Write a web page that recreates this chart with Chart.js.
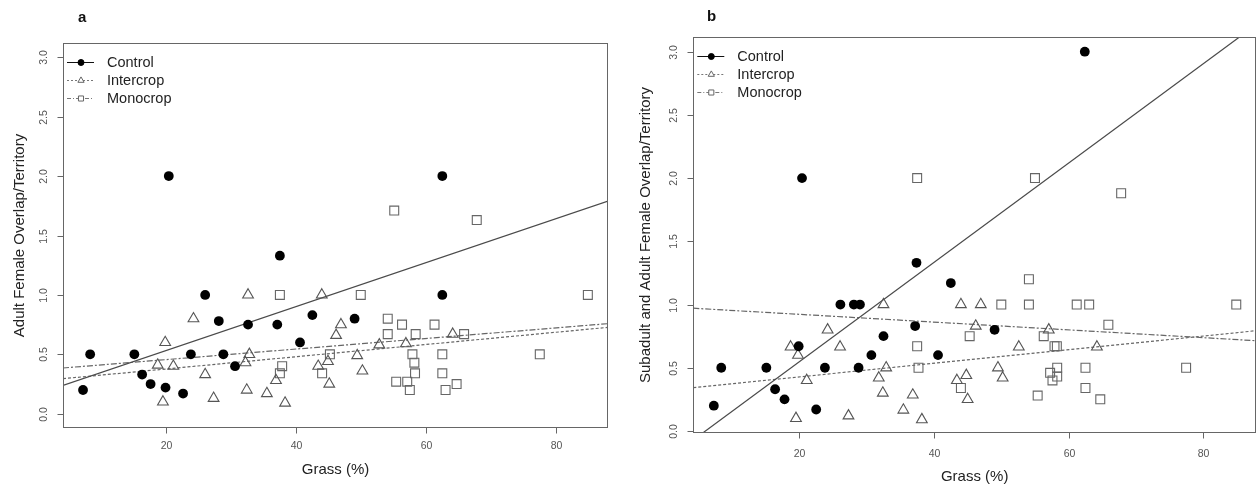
<!DOCTYPE html>
<html><head><meta charset="utf-8">
<script src="https://cdn.jsdelivr.net/npm/chart.js@4/dist/chart.umd.min.js"></script>
<style>
html,body{margin:0;padding:0;background:#fff;}
#wrap{position:relative;width:1257px;height:488px;overflow:hidden;background:#fff;}
canvas{position:absolute;top:0;}
#ca{left:0;}
#cb{left:630px;}
</style></head><body>
<div id="wrap"><canvas id="ca" width="630" height="488"></canvas><canvas id="cb" width="627" height="488"></canvas></div>
<script>
// ---- tick labels & names ----
const xTicks = [20, 40, 60, 80];
const xTickLabels = ['20', '40', '60', '80'];
const yTicks = [0, 0.5, 1, 1.5, 2, 2.5, 3];
const yTickLabels = ['0.0', '0.5', '1.0', '1.5', '2.0', '2.5', '3.0'];
const seriesNames = ['Control', 'Intercrop', 'Monocrop'];
const xTitle = 'Grass (%)';
const yTitleA = 'Adult Female Overlap/Territory';
const yTitleB = 'Subadult and Adult Female Overlap/Territory';

// ---- panel a data ----
const controlA_x = [7.2, 8.3, 15.1, 16.3, 17.6, 19.9, 20.4, 22.6, 23.8, 26.0, 28.1, 28.8, 30.6, 32.6, 37.1, 37.5, 40.6, 42.5, 49.0, 62.5, 62.5];
const controlA_y = [0.20, 0.50, 0.50, 0.33, 0.25, 0.22, 2.00, 0.17, 0.50, 1.00, 0.78, 0.50, 0.40, 0.75, 0.75, 1.33, 0.60, 0.83, 0.80, 1.00, 2.00];
const intercropA_x = [18.7, 19.5, 19.85, 21.1, 24.2, 26.0, 27.3, 32.2, 32.4, 32.6, 32.8, 35.5, 36.9, 38.3, 43.4, 43.95, 44.9, 45.1, 46.15, 46.9, 49.4, 50.2, 52.8, 56.9, 64.1];
const intercropA_y = [0.41, 0.10, 0.60, 0.40, 0.80, 0.33, 0.13, 0.43, 0.20, 1.00, 0.50, 0.17, 0.28, 0.09, 0.40, 1.00, 0.44, 0.25, 0.66, 0.75, 0.49, 0.36, 0.58, 0.59, 0.67];
const monocropA_x = [37.5, 37.5, 37.85, 44.0, 45.2, 49.95, 54.1, 54.1, 55.1, 55.4, 56.3, 57.1, 57.5, 57.9, 58.2, 58.3, 58.4, 61.3, 62.5, 62.5, 63.0, 64.7, 65.85, 67.8, 77.5, 84.9];
const monocropA_y = [1.00, 0.34, 0.40, 0.34, 0.50, 1.00, 0.80, 0.67, 1.71, 0.27, 0.75, 0.27, 0.20, 0.50, 0.43, 0.34, 0.67, 0.75, 0.50, 0.34, 0.20, 0.25, 0.67, 1.63, 0.50, 1.00];
// fitted lines (end points)
const fitA_x = [4.12, 88.0];
const controlFitA_y = [0.238, 1.79];
const intercropFitA_y = [0.295, 0.727];
const monocropFitA_y = [0.385, 0.758];

// ---- panel b data ----
const controlB_x = [7.3, 8.4, 15.1, 16.4, 17.8, 19.9, 20.4, 22.5, 23.8, 26.1, 28.1, 28.8, 29.0, 30.7, 32.5, 37.2, 37.4, 40.6, 42.5, 49.0, 62.4];
const controlB_y = [0.20, 0.50, 0.50, 0.33, 0.25, 0.67, 2.00, 0.17, 0.50, 1.00, 1.00, 0.50, 1.00, 0.60, 0.75, 0.83, 1.33, 0.60, 1.17, 0.80, 3.00];
const intercropB_x = [18.7, 19.5, 19.8, 21.1, 24.2, 26.05, 27.3, 31.8, 32.4, 32.5, 32.9, 35.45, 36.85, 38.2, 43.4, 44.0, 44.8, 45.0, 46.2, 46.95, 49.5, 50.2, 52.6, 57.05, 64.2];
const intercropB_y = [0.665, 0.10, 0.60, 0.40, 0.80, 0.665, 0.12, 0.42, 0.30, 1.00, 0.50, 0.166, 0.285, 0.09, 0.40, 1.00, 0.44, 0.25, 0.83, 1.00, 0.50, 0.42, 0.665, 0.80, 0.665];
const monocropB_x = [37.5, 37.5, 37.7, 44.0, 45.3, 50.0, 54.1, 54.1, 55.0, 55.4, 56.3, 57.25, 57.6, 57.9, 58.25, 58.3, 58.3, 61.2, 62.5, 62.5, 63.05, 64.7, 65.9, 67.8, 77.45, 84.9];
const monocropB_y = [2.00, 0.67, 0.50, 0.34, 0.75, 1.00, 1.20, 1.00, 2.00, 0.28, 0.75, 0.46, 0.40, 0.67, 0.67, 0.43, 0.50, 1.00, 0.50, 0.34, 1.00, 0.25, 0.84, 1.88, 0.50, 1.00];
const controlFitB_x = [5.65, 85.38];
const controlFitB_y = [-0.016, 3.116];
const cropFitB_x = [4.25, 87.83];
const intercropFitB_y = [0.343, 0.793];
const monocropFitB_y = [0.971, 0.714];

// ---- styling ----
const FONT = '"Liberation Sans", Arial, Helvetica, sans-serif';
const styles = {
  Control:   {pointStyle: 'circle',   radius: 4.9, fill: '#000', stroke: '#000', line: '#4a4a4a', dash: [],            lr: 3},
  Intercrop: {pointStyle: 'triangle', radius: 6.2, fill: 'rgba(0,0,0,0)', stroke: '#555', line: '#666', dash: [3, 2],        lr: 3.6},
  Monocrop:  {pointStyle: 'rect',     radius: 6.3, fill: 'rgba(0,0,0,0)', stroke: '#666', line: '#666', dash: [6, 2, 2, 2], lr: 3.6}
};

function pts(xs, ys) { return xs.map((x, i) => ({x: x, y: ys[i]})); }

function scatterSet(name, xs, ys) {
  const s = styles[name];
  return {label: name, data: pts(xs, ys), showLine: false, pointStyle: s.pointStyle,
    pointRadius: s.radius, pointBackgroundColor: s.fill, pointBorderColor: s.stroke,
    pointBorderWidth: name === 'Control' ? 0 : 1.1, order: 1};
}
function lineSet(name, xs, ys) {
  const s = styles[name];
  return {label: name + ' fit', data: pts(xs, ys), showLine: true, pointRadius: 0,
    borderColor: s.line, borderWidth: 1.2, borderDash: s.dash, fill: false, order: 2};
}

function framePlugin(p) {
  return {
    id: 'frame' + p.letter,
    afterDraw(chart) {
      const ctx = chart.ctx, a = chart.chartArea, xs = chart.scales.x, ys = chart.scales.y;
      ctx.save();
      ctx.setLineDash([]);
      ctx.strokeStyle = '#666';
      ctx.lineWidth = 1;
      const L = Math.round(a.left) + 0.5, T = Math.round(a.top) + 0.5;
      const R = Math.round(a.right) - 0.5, B = Math.round(a.bottom) - 0.5;
      ctx.strokeRect(L, T, R - L, B - T);
      // ticks
      ctx.font = p.tickFont + ' ' + FONT;
      ctx.fillStyle = '#555';
      ctx.textAlign = 'center';
      ctx.textBaseline = 'middle';
      xTicks.forEach((v, i) => {
        const px = Math.round(xs.getPixelForValue(v)) + 0.5;
        ctx.beginPath(); ctx.moveTo(px, B); ctx.lineTo(px, B + 6); ctx.stroke();
        ctx.fillText(xTickLabels[i], px, B + p.xLabOff);
      });
      yTicks.forEach((v, i) => {
        const py = Math.round(ys.getPixelForValue(v)) + 0.5;
        ctx.beginPath(); ctx.moveTo(L - 6, py); ctx.lineTo(L, py); ctx.stroke();
        ctx.save(); ctx.translate(L - p.yLabOff, py); ctx.rotate(-Math.PI / 2);
        ctx.fillText(yTickLabels[i], 0, 0); ctx.restore();
      });
      // axis titles
      ctx.font = '15px ' + FONT;
      ctx.fillStyle = '#222';
      ctx.fillText(xTitle, (a.left + a.right) / 2, B + p.xTitleOff);
      ctx.save(); ctx.translate(L - p.yTitleOff, (a.top + a.bottom) / 2 + p.yTitleShift); ctx.rotate(-Math.PI / 2);
      ctx.fillText(p.yTitle, 0, 0); ctx.restore();
      // panel letter
      ctx.font = 'bold 15px ' + FONT;
      ctx.fillStyle = '#111';
      ctx.textAlign = 'left';
      ctx.textBaseline = 'alphabetic';
      ctx.fillText(p.letter, p.letterX, p.letterY);
      // legend
      seriesNames.forEach((name, i) => {
        const s = styles[name];
        const y = Math.round(a.top + 19 + 18 * i) + 0.5;
        ctx.strokeStyle = name === 'Control' ? '#111' : '#777';
        ctx.setLineDash(name === 'Control' ? [] : (name === 'Intercrop' ? [2, 2] : [4, 2, 1, 2]));
        ctx.beginPath(); ctx.moveTo(a.left + 4, y); ctx.lineTo(a.left + 31, y); ctx.stroke();
        ctx.setLineDash([]);
        ctx.fillStyle = name === 'Control' ? '#000' : '#fff';
        ctx.strokeStyle = name === 'Control' ? '#000' : '#666';
        ctx.lineWidth = 1;
        Chart.helpers.drawPoint(ctx, {pointStyle: s.pointStyle, radius: s.lr, borderWidth: 1, rotation: 0}, a.left + 18, y);
        ctx.font = '14.5px ' + FONT;
        ctx.fillStyle = '#222';
        ctx.textBaseline = 'middle';
        ctx.fillText(name, a.left + 44, y);
      });
      ctx.restore();
    }
  };
}

function makeChart(id, datasets, xr, yr, pad, p) {
  return new Chart(document.getElementById(id), {
    type: 'scatter',
    data: {datasets: datasets},
    options: {
      responsive: false, animation: false, events: [],
      layout: {padding: pad, autoPadding: false},
      plugins: {legend: {display: false}, title: {display: false}, tooltip: {enabled: false}},
      scales: {
        x: {type: 'linear', display: false, min: xr[0], max: xr[1]},
        y: {type: 'linear', display: false, min: yr[0], max: yr[1]}
      }
    },
    plugins: [framePlugin(p)]
  });
}

makeChart('ca', [
  lineSet('Control', fitA_x, controlFitA_y),
  lineSet('Intercrop', fitA_x, intercropFitA_y),
  lineSet('Monocrop', fitA_x, monocropFitA_y),
  scatterSet('Control', controlA_x, controlA_y),
  scatterSet('Intercrop', intercropA_x, intercropA_y),
  scatterSet('Monocrop', monocropA_x, monocropA_y)
], [4.12, 88.0], [-0.12, 3.12], {left: 63, right: 22, top: 43, bottom: 60},
  {letter: 'a', letterX: 78, letterY: 22, yTitle: yTitleA, tickFont: '10.5px', xLabOff: 19, yLabOff: 19, xTitleOff: 42, yTitleOff: 44, yTitleShift: 0});

makeChart('cb', [
  lineSet('Control', controlFitB_x, controlFitB_y),
  lineSet('Intercrop', cropFitB_x, intercropFitB_y),
  lineSet('Monocrop', cropFitB_x, monocropFitB_y),
  scatterSet('Control', controlB_x, controlB_y),
  scatterSet('Intercrop', intercropB_x, intercropB_y),
  scatterSet('Monocrop', monocropB_x, monocropB_y)
], [4.25, 87.83], [-0.016, 3.116], {left: 63.3, right: 1, top: 37, bottom: 55},
  {letter: 'b', letterX: 77, letterY: 21, yTitle: yTitleB, tickFont: '10.5px', xLabOff: 21.5, yLabOff: 19.5, xTitleOff: 44.5, yTitleOff: 48, yTitleShift: 0});
</script>
</body></html>
